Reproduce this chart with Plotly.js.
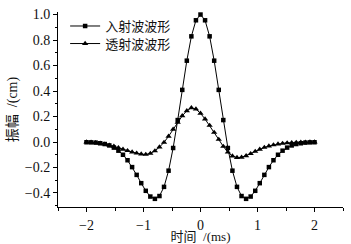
<!DOCTYPE html>
<html>
<head>
<meta charset="utf-8">
<script src="https://cdn.plot.ly/plotly-3.0.1.min.js"></script>
<style>html,body{margin:0;padding:0;background:#fff;}#chart{width:351px;height:244px;}</style>
</head>
<body>
<div id="chart"></div>
<script>
const timeMs = [-2.00,-1.92,-1.84,-1.76,-1.68,-1.60,-1.52,-1.44,-1.36,-1.28,-1.20,-1.12,-1.04,-0.96,-0.88,-0.80,-0.72,-0.64,-0.56,-0.48,-0.40,-0.32,-0.24,-0.16,-0.08,0.00,0.08,0.16,0.24,0.32,0.40,0.48,0.56,0.64,0.72,0.80,0.88,0.96,1.04,1.12,1.20,1.28,1.36,1.44,1.52,1.60,1.68,1.76,1.84,1.92,2.00];
const incidentWave = [-0.002,-0.003,-0.005,-0.010,-0.016,-0.027,-0.044,-0.068,-0.100,-0.143,-0.197,-0.258,-0.323,-0.383,-0.428,-0.446,-0.424,-0.352,-0.225,-0.047,0.172,0.409,0.638,0.829,0.955,1.000,0.955,0.829,0.638,0.409,0.172,-0.047,-0.225,-0.352,-0.424,-0.446,-0.428,-0.383,-0.323,-0.258,-0.197,-0.143,-0.100,-0.068,-0.044,-0.027,-0.016,-0.010,-0.005,-0.003,-0.002];
const transmittedWave = [0.000,-0.002,-0.005,-0.010,-0.017,-0.025,-0.034,-0.045,-0.057,-0.068,-0.079,-0.088,-0.095,-0.098,-0.090,-0.070,-0.040,-0.003,0.045,0.100,0.155,0.205,0.245,0.268,0.258,0.225,0.180,0.130,0.075,0.020,-0.035,-0.080,-0.110,-0.122,-0.120,-0.108,-0.092,-0.074,-0.057,-0.043,-0.032,-0.023,-0.016,-0.011,-0.007,-0.005,-0.003,-0.002,-0.001,0.000,0.000];
const seriesNames = ['入射波波形','透射波波形'];
const xTickVals = [-2,-1,0,1,2];
const yTickVals = [-0.4,-0.2,0.0,0.2,0.4,0.6,0.8,1.0];
const xTitle = '时间\u2002/(ms)';
const yTitle = '振幅\u2002/(cm)';

const serif = 'Liberation Serif, Times New Roman, Noto Sans CJK SC, serif';
const legendFont = {family: serif, size: 13, color: '#111'};
const traces = [
  {x: timeMs, y: incidentWave, name: seriesNames[0], mode: 'lines+markers', type: 'scatter', legend: 'legend',
   line: {color: '#000', width: 1}, marker: {symbol: 'square', size: 4.5, color: '#000'}},
  {x: timeMs, y: transmittedWave, name: seriesNames[1], mode: 'lines+markers', type: 'scatter', legend: 'legend2',
   line: {color: '#000', width: 1}, marker: {symbol: 'triangle-up', size: 5.5, color: '#000'}}
];
const layout = {
  width: 351, height: 244,
  margin: {l: 58, r: 8, t: 12, b: 37},
  paper_bgcolor: '#fff', plot_bgcolor: '#fff',
  font: {family: serif, size: 14, color: '#111'},
  showlegend: true,
  legend: {x: 0.025, y: 0.928, xanchor: 'left', yanchor: 'middle', bgcolor: 'rgba(0,0,0,0)',
           font: legendFont, itemwidth: 30},
  legend2: {x: 0.025, y: 0.838, xanchor: 'left', yanchor: 'middle', bgcolor: 'rgba(0,0,0,0)',
           font: legendFont, itemwidth: 30},
  xaxis: {range: [-2.5, 2.5], tickvals: xTickVals, ticks: 'outside', ticklen: 4, tickwidth: 1,
          tickcolor: '#000', showline: true, linecolor: '#000', linewidth: 1, showgrid: false,
          zeroline: false, mirror: false, ticklabelstandoff: 1,
          minor: {dtick: 0.5, tick0: 0, ticks: 'outside', ticklen: 2.5, tickcolor: '#000'},
          tickfont: {family: serif, size: 14, color: '#111'},
          title: {text: xTitle, font: {family: serif, size: 13, color: '#111'}, standoff: 4}},
  yaxis: {range: [-0.51, 1.02], tickvals: yTickVals, tickformat: '.1f', ticks: 'outside', ticklen: 4,
          tickwidth: 1, tickcolor: '#000', showline: true, linecolor: '#000', linewidth: 1,
          showgrid: false, zeroline: false,
          minor: {dtick: 0.1, tick0: 0, ticks: 'outside', ticklen: 2.5, tickcolor: '#000'},
          tickfont: {family: serif, size: 14, color: '#111'},
          title: {text: yTitle, font: {family: serif, size: 14, color: '#111'}, standoff: 3}}
};
Plotly.newPlot('chart', traces, layout, {displayModeBar: false, staticPlot: true});
</script>
</body>
</html>
